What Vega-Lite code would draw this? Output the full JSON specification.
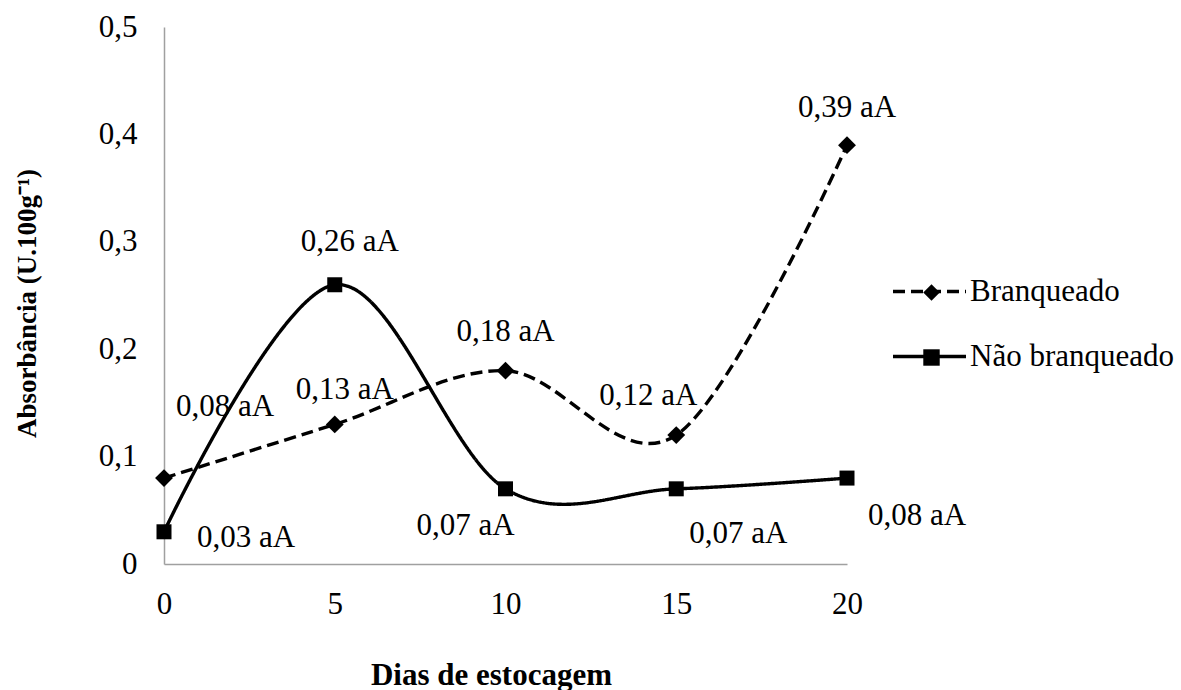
{
  "$schema": "https://vega.github.io/schema/vega-lite/v6.json",
  "width": 683,
  "height": 537,
  "autosize": {"type": "none"},
  "padding": {"left": 164, "top": 27, "right": 334, "bottom": 126},
  "background": "white",
  "config": {
    "view": {"stroke": null},
    "font": "Liberation Serif",
    "axis": {
      "domainColor": "#a0a0a0",
      "domainWidth": 1.5,
      "ticks": false,
      "grid": false,
      "labelFlush": false,
      "labelOverlap": false,
      "labelFont": "Liberation Serif",
      "labelFontSize": 31,
      "labelColor": "black",
      "titleFont": "Liberation Serif",
      "titleFontWeight": "bold",
      "titleColor": "black"
    }
  },
  "data": {
    "values": [
      {"dia": 0, "serie": "Branqueado", "valor": 0.08, "letras": "aA"},
      {"dia": 5, "serie": "Branqueado", "valor": 0.13, "letras": "aA"},
      {"dia": 10, "serie": "Branqueado", "valor": 0.18, "letras": "aA"},
      {"dia": 15, "serie": "Branqueado", "valor": 0.12, "letras": "aA"},
      {"dia": 20, "serie": "Branqueado", "valor": 0.39, "letras": "aA"},
      {"dia": 0, "serie": "Não branqueado", "valor": 0.03, "letras": "aA"},
      {"dia": 5, "serie": "Não branqueado", "valor": 0.26, "letras": "aA"},
      {"dia": 10, "serie": "Não branqueado", "valor": 0.07, "letras": "aA"},
      {"dia": 15, "serie": "Não branqueado", "valor": 0.07, "letras": "aA"},
      {"dia": 20, "serie": "Não branqueado", "valor": 0.08, "letras": "aA"}
    ]
  },
  "transform": [
    {"calculate": "replace(format(datum.valor, '.2f'), '.', ',') + ' ' + datum.letras", "as": "rotulo"}
  ],
  "encoding": {
    "x": {
      "field": "dia",
      "type": "quantitative",
      "scale": {"domain": [0, 20], "nice": false, "zero": false},
      "axis": {
        "values": [0, 5, 10, 15, 20],
        "title": "Dias de estocagem",
        "titleFontSize": 31,
        "labelPadding": 25,
        "titleX": 327,
        "titleY": 120,
        "titleBaseline": "alphabetic"
      }
    },
    "y": {
      "field": "valor",
      "type": "quantitative",
      "scale": {"domain": [0, 0.5], "nice": false},
      "axis": {
        "values": [0, 0.1, 0.2, 0.3, 0.4, 0.5],
        "labelExpr": "replace(format(datum.value, '.1~f'), '.', ',')",
        "labelPadding": 27,
        "title": "Absorbância (U.100g⁻¹)",
        "titleFontSize": 27,
        "titleX": -129,
        "titleY": 276,
        "titleBaseline": "alphabetic",
        "titleAlign": "center"
      }
    }
  },
  "layer": [
    {
      "mark": {"type": "line", "interpolate": "cardinal", "strokeWidth": 3.4, "color": "black", "strokeCap": "butt"},
      "encoding": {
        "strokeDash": {
          "field": "serie",
          "type": "nominal",
          "scale": {"domain": ["Branqueado", "Não branqueado"], "range": [[12, 6], [1, 0]]},
          "legend": {
            "title": null,
            "orient": "none",
            "legendX": 727,
            "legendY": 226,
            "direction": "vertical",
            "padding": 0,
            "symbolType": "stroke",
            "symbolSize": 5329,
            "symbolOffset": 0,
            "symbolStrokeWidth": 3.4,
            "symbolStrokeColor": "black",
            "labelOffset": 2,
            "labelFont": "Liberation Serif",
            "labelFontSize": 31,
            "labelColor": "black",
            "labelLimit": 400,
            "rowPadding": 11,
            "encode": {
              "symbols": {
                "update": {
                  "stroke": {"value": "black"},
                  "strokeWidth": {"value": 3.4},
                  "opacity": {"value": 1}
                }
              }
            }
          }
        }
      }
    },
    {
      "transform": [{"filter": "datum.serie == 'Branqueado'"}],
      "mark": {"type": "point", "filled": true, "color": "black", "opacity": 1, "size": 320, "strokeWidth": 0},
      "encoding": {
        "shape": {
          "field": "serie",
          "type": "nominal",
          "scale": {"range": ["diamond", "square"]},
          "legend": {
            "title": null,
            "orient": "none",
            "legendX": 752,
            "legendY": 250,
            "direction": "vertical",
            "padding": 0,
            "symbolSize": 270,
            "symbolOffset": 0,
            "symbolStrokeWidth": 0,
            "labelFontSize": 31,
            "labelOpacity": 0,
            "labelExpr": "' '",
            "rowPadding": 33,
            "encode": {
              "symbols": {
                "update": {
                  "fill": {"value": "black"},
                  "strokeWidth": {"value": 0},
                  "opacity": {"value": 1}
                }
              }
            }
          }
        }
      }
    },
    {
      "transform": [{"filter": "datum.serie == 'Não branqueado'"}],
      "mark": {"type": "point", "filled": true, "color": "black", "opacity": 1, "size": 225, "strokeWidth": 0},
      "encoding": {
        "shape": {"field": "serie", "type": "nominal"}
      }
    },
    {
      "transform": [{"filter": "datum.serie == 'Branqueado' && datum.dia == 0"}],
      "mark": {"type": "text", "fontSize": 31, "color": "black", "align": "center", "baseline": "middle", "dx": 61, "dy": -71},
      "encoding": {"text": {"field": "rotulo"}}
    },
    {
      "transform": [{"filter": "datum.serie == 'Branqueado' && datum.dia == 5"}],
      "mark": {"type": "text", "fontSize": 31, "color": "black", "align": "center", "baseline": "middle", "dx": 10, "dy": -34},
      "encoding": {"text": {"field": "rotulo"}}
    },
    {
      "transform": [{"filter": "datum.serie == 'Branqueado' && datum.dia == 10"}],
      "mark": {"type": "text", "fontSize": 31, "color": "black", "align": "center", "baseline": "middle", "dx": 0, "dy": -39},
      "encoding": {"text": {"field": "rotulo"}}
    },
    {
      "transform": [{"filter": "datum.serie == 'Branqueado' && datum.dia == 15"}],
      "mark": {"type": "text", "fontSize": 31, "color": "black", "align": "center", "baseline": "middle", "dx": -28, "dy": -39},
      "encoding": {"text": {"field": "rotulo"}}
    },
    {
      "transform": [{"filter": "datum.serie == 'Branqueado' && datum.dia == 20"}],
      "mark": {"type": "text", "fontSize": 31, "color": "black", "align": "center", "baseline": "middle", "dx": 0, "dy": -37},
      "encoding": {"text": {"field": "rotulo"}}
    },
    {
      "transform": [{"filter": "datum.serie == 'Não branqueado' && datum.dia == 0"}],
      "mark": {"type": "text", "fontSize": 31, "color": "black", "align": "center", "baseline": "middle", "dx": 82, "dy": 6},
      "encoding": {"text": {"field": "rotulo"}}
    },
    {
      "transform": [{"filter": "datum.serie == 'Não branqueado' && datum.dia == 5"}],
      "mark": {"type": "text", "fontSize": 31, "color": "black", "align": "center", "baseline": "middle", "dx": 15, "dy": -43},
      "encoding": {"text": {"field": "rotulo"}}
    },
    {
      "transform": [{"filter": "datum.serie == 'Não branqueado' && datum.dia == 10"}],
      "mark": {"type": "text", "fontSize": 31, "color": "black", "align": "center", "baseline": "middle", "dx": -40, "dy": 37},
      "encoding": {"text": {"field": "rotulo"}}
    },
    {
      "transform": [{"filter": "datum.serie == 'Não branqueado' && datum.dia == 15"}],
      "mark": {"type": "text", "fontSize": 31, "color": "black", "align": "center", "baseline": "middle", "dx": 62, "dy": 45},
      "encoding": {"text": {"field": "rotulo"}}
    },
    {
      "transform": [{"filter": "datum.serie == 'Não branqueado' && datum.dia == 20"}],
      "mark": {"type": "text", "fontSize": 31, "color": "black", "align": "center", "baseline": "middle", "dx": 70, "dy": 38},
      "encoding": {"text": {"field": "rotulo"}}
    }
  ]
}
